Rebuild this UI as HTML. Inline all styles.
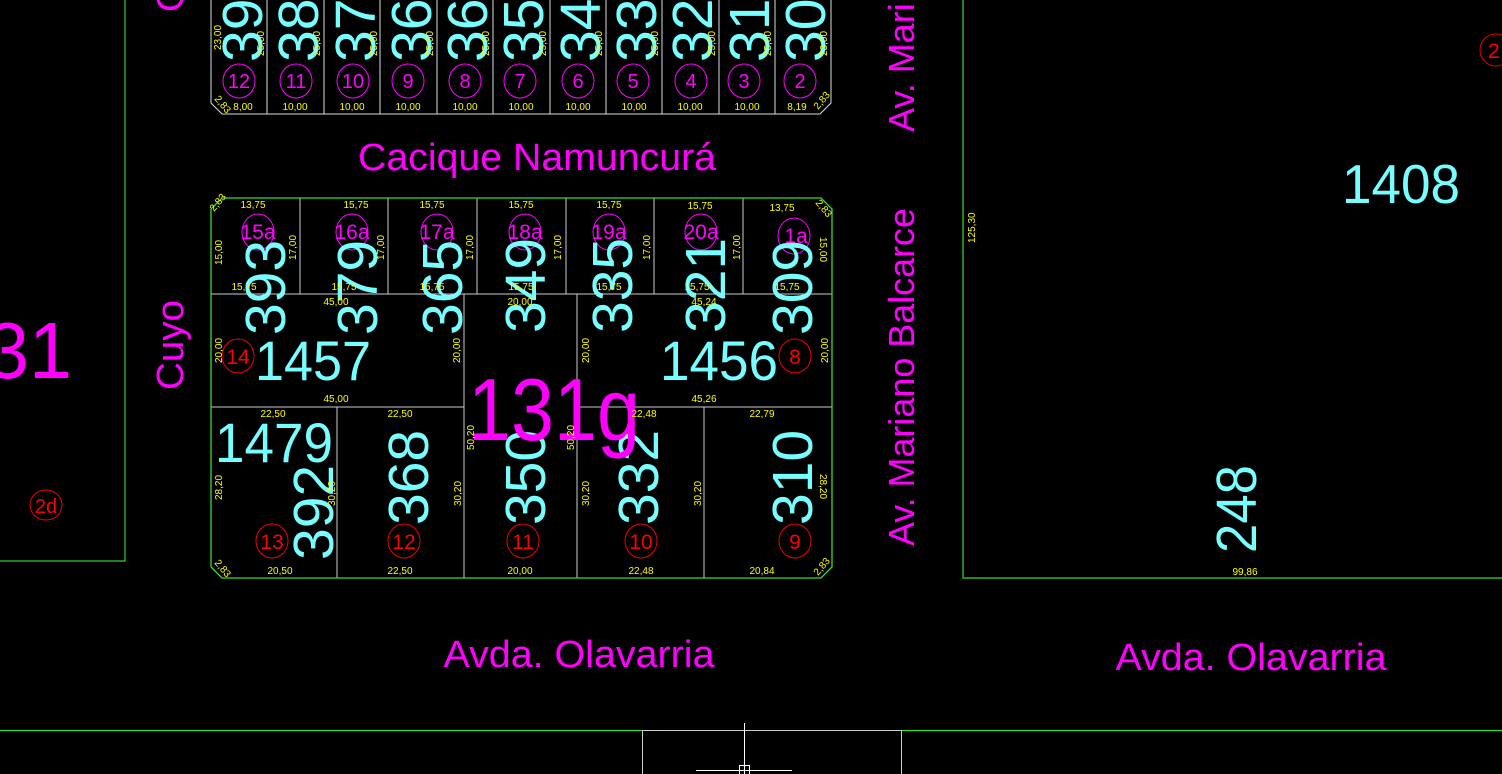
<!DOCTYPE html>
<html><head><style>html,body{margin:0;padding:0;background:#000;overflow:hidden}svg{display:block}</style></head>
<body>
<svg width="1502" height="774" viewBox="0 0 1502 774" xmlns="http://www.w3.org/2000/svg" font-family="Liberation Sans, Arial, sans-serif">
<rect width="1502" height="774" fill="#000"/>
<!-- left block -->
<polyline points="125,0 125,561 0,561" fill="none" stroke="#3c3" stroke-width="1.2"/>
<text x="-14" y="378" font-size="80" fill="#f0f" textLength="86" lengthAdjust="spacingAndGlyphs">31</text>
<ellipse cx="46" cy="505" rx="16" ry="15" fill="none" stroke="#e00"/>
<text x="46" y="513" font-size="20" fill="#f00" text-anchor="middle">2d</text>
<text transform="translate(183,390) rotate(-90)" font-size="38" fill="#f0f" textLength="90" lengthAdjust="spacingAndGlyphs">Cuyo</text>
<text transform="translate(183,12) rotate(-90)" font-size="38" fill="#f0f">C</text>

<!-- top block -->
<g stroke="#ddd" stroke-width="1" fill="none">
<polyline points="211,0 211,103 222,114 820,114 831,103 831,0"/>
<line x1="267" y1="0" x2="267" y2="114"/><line x1="324" y1="0" x2="324" y2="114"/>
<line x1="380" y1="0" x2="380" y2="114"/><line x1="437" y1="0" x2="437" y2="114"/>
<line x1="493" y1="0" x2="493" y2="114"/><line x1="550" y1="0" x2="550" y2="114"/>
<line x1="606" y1="0" x2="606" y2="114"/><line x1="662" y1="0" x2="662" y2="114"/>
<line x1="719" y1="0" x2="719" y2="114"/><line x1="775" y1="0" x2="775" y2="114"/>
</g>
<g font-size="57" fill="#7ff">
<text transform="translate(262,62) rotate(-90)">396</text>
<text transform="translate(318,62) rotate(-90)">388</text>
<text transform="translate(375,62) rotate(-90)">378</text>
<text transform="translate(431,62) rotate(-90)">369</text>
<text transform="translate(487,62) rotate(-90)">360</text>
<text transform="translate(543,62) rotate(-90)">352</text>
<text transform="translate(600,62) rotate(-90)">344</text>
<text transform="translate(656,62) rotate(-90)">336</text>
<text transform="translate(712,62) rotate(-90)">328</text>
<text transform="translate(769,62) rotate(-90)">316</text>
<text transform="translate(825,62) rotate(-90)">304</text>
</g>
<g fill="none" stroke="#f0f">
<ellipse cx="239" cy="81" rx="16" ry="17"/><ellipse cx="296" cy="81" rx="16" ry="17"/>
<ellipse cx="353" cy="81" rx="16" ry="17"/><ellipse cx="408" cy="81" rx="16" ry="17"/>
<ellipse cx="465" cy="81" rx="16" ry="17"/><ellipse cx="520" cy="81" rx="16" ry="17"/>
<ellipse cx="578" cy="81" rx="16" ry="17"/><ellipse cx="633" cy="81" rx="16" ry="17"/>
<ellipse cx="691" cy="81" rx="16" ry="17"/><ellipse cx="744" cy="81" rx="16" ry="17"/>
<ellipse cx="800" cy="81" rx="16" ry="17"/>
</g>
<g font-size="20" fill="#f0f" text-anchor="middle">
<text x="239" y="88">12</text><text x="296" y="88">11</text><text x="353" y="88">10</text>
<text x="408" y="88">9</text><text x="465" y="88">8</text><text x="520" y="88">7</text>
<text x="578" y="88">6</text><text x="633" y="88">5</text><text x="691" y="88">4</text>
<text x="744" y="88">3</text><text x="800" y="88">2</text>
</g>
<g font-size="10" fill="#ff0">
<g text-anchor="middle">
<text x="243" y="110">8,00</text><text x="295" y="110">10,00</text><text x="352" y="110">10,00</text>
<text x="408" y="110">10,00</text><text x="465" y="110">10,00</text><text x="521" y="110">10,00</text>
<text x="578" y="110">10,00</text><text x="634" y="110">10,00</text><text x="690" y="110">10,00</text>
<text x="747" y="110">10,00</text><text x="797" y="110">8,19</text>
</g>
<text transform="translate(221,50) rotate(-90)">23,00</text>
<text transform="translate(264,56) rotate(-90)">25,00</text>
<text transform="translate(320,56) rotate(-90)">25,00</text>
<text transform="translate(377,56) rotate(-90)">25,00</text>
<text transform="translate(433,56) rotate(-90)">25,00</text>
<text transform="translate(489,56) rotate(-90)">25,00</text>
<text transform="translate(546,56) rotate(-90)">25,00</text>
<text transform="translate(602,56) rotate(-90)">25,00</text>
<text transform="translate(658,56) rotate(-90)">25,00</text>
<text transform="translate(715,56) rotate(-90)">25,00</text>
<text transform="translate(771,56) rotate(-90)">25,00</text>
<text transform="translate(827,56) rotate(-90)">23,00</text>
<text transform="translate(214,99) rotate(50)">2,83</text>
<text transform="translate(818,110) rotate(-50)">2,83</text>
</g>

<text x="537" y="170" font-size="38" fill="#f0f" text-anchor="middle" textLength="358" lengthAdjust="spacingAndGlyphs">Cacique Namuncurá</text>

<!-- middle block -->
<g stroke="#ccc" stroke-width="1" fill="none">
<line x1="300" y1="198" x2="300" y2="294"/><line x1="388" y1="198" x2="388" y2="294"/>
<line x1="477" y1="198" x2="477" y2="294"/><line x1="566" y1="198" x2="566" y2="294"/>
<line x1="654" y1="198" x2="654" y2="294"/><line x1="743" y1="198" x2="743" y2="294"/>
<line x1="211" y1="294" x2="832" y2="294"/>
<line x1="464" y1="294" x2="464" y2="578"/><line x1="577" y1="294" x2="577" y2="578"/>
<line x1="211" y1="407" x2="464" y2="407"/><line x1="577" y1="407" x2="832" y2="407"/>
<line x1="337" y1="407" x2="337" y2="578"/><line x1="704" y1="407" x2="704" y2="578"/>
</g>
<polygon points="222,198 821,198 832,209 832,567 821,578 222,578 211,567 211,209" fill="none" stroke="#3d3" stroke-width="1.3"/>
<g fill="none" stroke="#f0f">
<ellipse cx="258" cy="232" rx="16" ry="18"/><ellipse cx="352" cy="232" rx="16" ry="18"/><ellipse cx="437" cy="232" rx="16" ry="18"/>
<ellipse cx="525" cy="232" rx="16" ry="18"/><ellipse cx="609" cy="232" rx="16" ry="18"/><ellipse cx="701" cy="232" rx="16" ry="18"/>
<ellipse cx="794" cy="236" rx="16" ry="18"/>
</g>
<g font-size="21" fill="#f0f" text-anchor="middle">
<text x="258" y="239">15a</text><text x="352" y="239">16a</text><text x="437" y="239">17a</text>
<text x="525" y="239">18a</text><text x="609" y="239">19a</text><text x="701" y="239">20a</text>
<text x="796" y="243">1a</text>
</g>
<g font-size="57" fill="#7ff">
<text transform="translate(285,335) rotate(-90)">393</text>
<text transform="translate(377,335) rotate(-90)">379</text>
<text transform="translate(462,335) rotate(-90)">365</text>
<text transform="translate(545,333) rotate(-90)">349</text>
<text transform="translate(632,333) rotate(-90)">335</text>
<text transform="translate(725,333) rotate(-90)">321</text>
<text transform="translate(812,335) rotate(-90)">309</text>
<text transform="translate(333,560) rotate(-90)">392</text>
<text transform="translate(428,525) rotate(-90)">368</text>
<text transform="translate(545,525) rotate(-90)">350</text>
<text transform="translate(658,525) rotate(-90)">332</text>
<text transform="translate(812,525) rotate(-90)">310</text>
</g>
<g font-size="56" fill="#7ff">
<text x="255" y="380" textLength="116" lengthAdjust="spacingAndGlyphs">1457</text>
<text x="660" y="380" textLength="118" lengthAdjust="spacingAndGlyphs">1456</text>
<text x="215" y="462" textLength="118" lengthAdjust="spacingAndGlyphs">1479</text>
</g>
<text x="468" y="440" font-size="88" fill="#f0f" textLength="172" lengthAdjust="spacingAndGlyphs">131g</text>
<g fill="none" stroke="#e00">
<ellipse cx="238" cy="356" rx="16" ry="17"/><ellipse cx="795" cy="356" rx="16" ry="17"/>
<ellipse cx="272" cy="541" rx="16" ry="17"/><ellipse cx="404" cy="541" rx="16" ry="17"/>
<ellipse cx="523" cy="541" rx="16" ry="17"/><ellipse cx="641" cy="541" rx="16" ry="17"/>
<ellipse cx="795" cy="541" rx="16" ry="17"/>
</g>
<g font-size="21" fill="#f00" text-anchor="middle">
<text x="238" y="364">14</text><text x="795" y="364">8</text>
<text x="272" y="549">13</text><text x="404" y="549">12</text><text x="523" y="549">11</text>
<text x="641" y="549">10</text><text x="795" y="549">9</text>
</g>
<g font-size="10" fill="#ff0">
<g text-anchor="middle">
<text x="253" y="208">13,75</text><text x="356" y="208">15,75</text><text x="432" y="208">15,75</text>
<text x="521" y="208">15,75</text><text x="609" y="208">15,75</text><text x="700" y="209">15,75</text>
<text x="782" y="211">13,75</text>
<text x="244" y="290">15,75</text><text x="344" y="290">15,75</text><text x="432" y="290">15,75</text>
<text x="521" y="290">15,75</text><text x="609" y="290">15,75</text><text x="697" y="290">15,75</text>
<text x="787" y="290">15,75</text>
<text x="336" y="305">45,00</text><text x="520" y="305">20,00</text><text x="704" y="305">45,24</text>
<text x="336" y="402">45,00</text><text x="704" y="402">45,26</text>
<text x="273" y="417">22,50</text><text x="400" y="417">22,50</text><text x="644" y="417">22,48</text><text x="762" y="417">22,79</text>
<text x="280" y="574">20,50</text><text x="400" y="574">22,50</text><text x="520" y="574">20,00</text>
<text x="641" y="574">22,48</text><text x="762" y="574">20,84</text>
</g>
<text transform="translate(222,265) rotate(-90)">15,00</text>
<text transform="translate(296,260) rotate(-90)">17,00</text>
<text transform="translate(384,260) rotate(-90)">17,00</text>
<text transform="translate(473,260) rotate(-90)">17,00</text>
<text transform="translate(561,260) rotate(-90)">17,00</text>
<text transform="translate(650,260) rotate(-90)">17,00</text>
<text transform="translate(740,260) rotate(-90)">17,00</text>
<text transform="translate(820,237) rotate(90)">15,00</text>
<text transform="translate(222,363) rotate(-90)">20,00</text>
<text transform="translate(460,363) rotate(-90)">20,00</text>
<text transform="translate(589,363) rotate(-90)">20,00</text>
<text transform="translate(828,363) rotate(-90)">20,00</text>
<text transform="translate(474,450) rotate(-90)">50,20</text>
<text transform="translate(574,450) rotate(-90)">50,20</text>
<text transform="translate(222,500) rotate(-90)">28,20</text>
<text transform="translate(335,506) rotate(-90)">30,20</text>
<text transform="translate(461,506) rotate(-90)">30,20</text>
<text transform="translate(589,506) rotate(-90)">30,20</text>
<text transform="translate(701,506) rotate(-90)">30,20</text>
<text transform="translate(820,474) rotate(90)">28,20</text>
<text transform="translate(214,212) rotate(-50)">2,83</text>
<text transform="translate(815,203) rotate(50)">2,83</text>
<text transform="translate(214,563) rotate(50)">2,83</text>
<text transform="translate(818,576) rotate(-50)">2,83</text>
</g>

<!-- right side street -->
<text transform="translate(914,546) rotate(-90)" font-size="36" fill="#f0f" textLength="338" lengthAdjust="spacingAndGlyphs">Av. Mariano Balcarce</text>
<text transform="translate(914,132) rotate(-90)" font-size="36" fill="#f0f">Av. Mari</text>

<!-- right block -->
<polyline points="963,0 963,578 1502,578" fill="none" stroke="#3d3" stroke-width="1.2"/>
<text transform="translate(975,243) rotate(-90)" font-size="10" fill="#ff0">125,30</text>
<text x="1342" y="203" font-size="55" fill="#7ff" textLength="118" lengthAdjust="spacingAndGlyphs">1408</text>
<text transform="translate(1256,553) rotate(-90)" font-size="57" fill="#7ff" textLength="88" lengthAdjust="spacingAndGlyphs">248</text>
<text x="1245" y="575" font-size="10" fill="#ff0" text-anchor="middle">99,86</text>
<circle cx="1496" cy="50" r="16" fill="none" stroke="#e00"/>
<text x="1488" y="58" font-size="21" fill="#f00">2</text>

<text x="579" y="667" font-size="38" fill="#f0f" text-anchor="middle" textLength="271" lengthAdjust="spacingAndGlyphs">Avda. Olavarria</text>
<text x="1251" y="670" font-size="38" fill="#f0f" text-anchor="middle" textLength="271" lengthAdjust="spacingAndGlyphs">Avda. Olavarria</text>

<!-- bottom -->
<line x1="0" y1="730.5" x2="642" y2="730.5" stroke="#3d3" stroke-width="1.2"/>
<line x1="901" y1="730.5" x2="1502" y2="730.5" stroke="#3d3" stroke-width="1.2"/>
<polyline points="642.5,774 642.5,730.5 901.5,730.5 901.5,774" fill="none" stroke="#ccc"/>
<line x1="744.5" y1="723" x2="744.5" y2="774" stroke="#fff"/>
<line x1="696" y1="770.5" x2="792" y2="770.5" stroke="#fff"/>
<rect x="739.5" y="765.5" width="10" height="10" fill="none" stroke="#fff"/>
</svg>
</body></html>
